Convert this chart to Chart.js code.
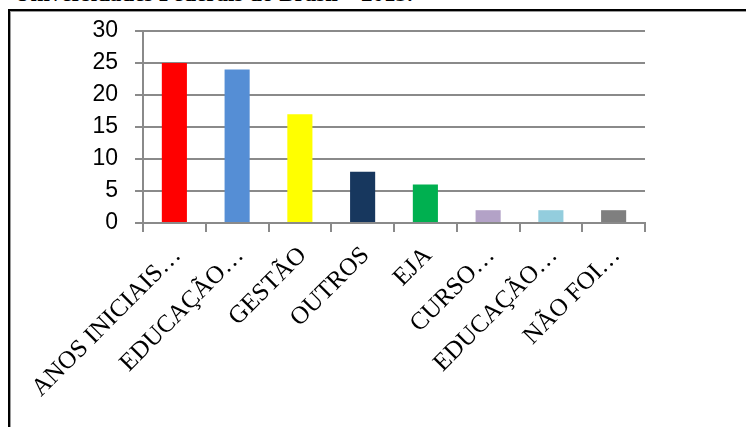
<!DOCTYPE html>
<html>
<head>
<meta charset="utf-8">
<script src="https://cdn.jsdelivr.net/npm/chart.js@4.4.1/dist/chart.umd.min.js"></script>
<style>
  html, body { margin: 0; padding: 0; background: #fff; }
  body { width: 746px; height: 427px; position: relative; overflow: hidden; }
  #title { position: absolute; left: 14px; top: -17px; font-family: "Liberation Serif", "Times New Roman", serif; font-size: 23px; font-weight: bold; color: #000; white-space: nowrap; line-height: 22px; }
  #frame { position: absolute; left: 8px; top: 9px; width: 760px; height: 440px; border-left: 2px solid #000; border-top: 2px solid #000; box-shadow: inset 1px 1px 0 #9a9a9a; }
  #wrap { position: absolute; left: 0; top: 0; width: 746px; height: 427px; }
</style>
</head>
<body>
<div id="title">Universidades Federais do Brasil – 2013.</div>
<div id="frame"></div>
<div id="wrap"><canvas id="c" width="746" height="427"></canvas></div>
<script>
const categories = ["ANOS INICIAIS…", "EDUCAÇÃO…", "GESTÃO", "OUTROS", "EJA", "CURSO…", "EDUCAÇÃO…", "NÃO FOI…"];
const values = [25, 24, 17, 8, 6, 2, 2, 2];
const barColors = ["#FF0000", "#558ED5", "#FFFF00", "#17375E", "#00B050", "#B3A2C7", "#93CDDD", "#7F7F7F"];
const yTicks = [0, 5, 10, 15, 20, 25, 30];

const gridColor = "#8a8a8a";

new Chart(document.getElementById("c"), {
  type: "bar",
  data: {
    labels: categories,
    datasets: [{
      data: values,
      backgroundColor: barColors,
      borderWidth: 0,
      barPercentage: 0.8,
      categoryPercentage: 0.5
    }]
  },
  options: {
    responsive: false,
    animation: false,
    devicePixelRatio: 1,
    layout: { padding: { left: 0, right: 101, top: 31, bottom: 0 } },
    plugins: { legend: { display: false }, tooltip: { enabled: false }, title: { display: false } },
    scales: {
      x: {
        grid: { display: true, offset: true, drawOnChartArea: false, drawTicks: true, tickLength: 9, color: gridColor, lineWidth: 2 },
        border: { display: true, color: gridColor, width: 2 },
        ticks: {
          color: "#000",
          font: { family: "'Liberation Serif', 'Times New Roman', serif", size: 25 },
          minRotation: 45, maxRotation: 45,
          autoSkip: false,
          labelOffset: 3,
          padding: 9
        },
        afterFit(scale) { scale.height = 204; }
      },
      y: {
        min: 0, max: 30,
        grid: { color: gridColor, lineWidth: 2, tickLength: 8, drawTicks: true },
        border: { display: true, color: gridColor, width: 2 },
        ticks: {
          stepSize: 5,
          color: "#000",
          padding: 17,
          font: { family: "'Liberation Sans', Arial, sans-serif", size: 23 },
          callback: (v) => yTicks.includes(v) ? String(v) : null
        },
        afterFit(scale) { scale.width = 143; }
      }
    }
  }
});
</script>
</body>
</html>
